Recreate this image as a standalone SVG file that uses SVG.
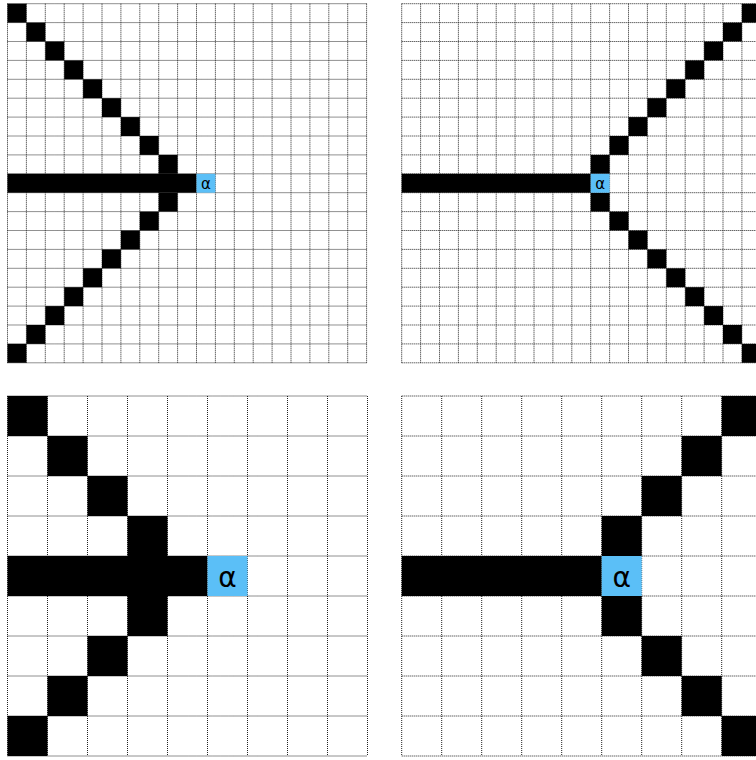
<svg xmlns="http://www.w3.org/2000/svg" width="756" height="760" viewBox="0 0 756 760">
<defs>
<style>
.grid{fill:none;stroke:#222;stroke-width:1;stroke-dasharray:1 1}
.blk{fill:#000}
.a{fill:#5bbff7}
.t{font-family:"DejaVu Sans","Liberation Sans",sans-serif;fill:#000;text-anchor:middle;dominant-baseline:central}
</style>
<path id="g19" class="grid" d="M0 0V359.1M18.9 0V359.1M37.8 0V359.1M56.7 0V359.1M75.6 0V359.1M94.5 0V359.1M113.4 0V359.1M132.3 0V359.1M151.2 0V359.1M170.1 0V359.1M189 0V359.1M207.9 0V359.1M226.8 0V359.1M245.7 0V359.1M264.6 0V359.1M283.5 0V359.1M302.4 0V359.1M321.3 0V359.1M340.2 0V359.1M359.1 0V359.1M0 0H359.1M0 18.9H359.1M0 37.8H359.1M0 56.7H359.1M0 75.6H359.1M0 94.5H359.1M0 113.4H359.1M0 132.3H359.1M0 151.2H359.1M0 170.1H359.1M0 189H359.1M0 207.9H359.1M0 226.8H359.1M0 245.7H359.1M0 264.6H359.1M0 283.5H359.1M0 302.4H359.1M0 321.3H359.1M0 340.2H359.1M0 359.1H359.1"/>
<path id="g9" class="grid" d="M0 0V360M40 0V360M80 0V360M120 0V360M160 0V360M200 0V360M240 0V360M280 0V360M320 0V360M360 0V360M0 0H360M0 40H360M0 80H360M0 120H360M0 160H360M0 200H360M0 240H360M0 280H360M0 320H360M0 360H360"/>
</defs>
<rect width="756" height="760" fill="#fff"/>
<g id="panel-top-left" transform="translate(7.5,3.7)">
<use href="#g19"/>
<g class="blk">
<rect x="0" y="0" width="18.9" height="18.9"/><rect x="0" y="340.2" width="18.9" height="18.9"/>
<rect x="18.9" y="18.9" width="18.9" height="18.9"/><rect x="18.9" y="321.3" width="18.9" height="18.9"/>
<rect x="37.8" y="37.8" width="18.9" height="18.9"/><rect x="37.8" y="302.4" width="18.9" height="18.9"/>
<rect x="56.7" y="56.7" width="18.9" height="18.9"/><rect x="56.7" y="283.5" width="18.9" height="18.9"/>
<rect x="75.6" y="75.6" width="18.9" height="18.9"/><rect x="75.6" y="264.6" width="18.9" height="18.9"/>
<rect x="94.5" y="94.5" width="18.9" height="18.9"/><rect x="94.5" y="245.7" width="18.9" height="18.9"/>
<rect x="113.4" y="113.4" width="18.9" height="18.9"/><rect x="113.4" y="226.8" width="18.9" height="18.9"/>
<rect x="132.3" y="132.3" width="18.9" height="18.9"/><rect x="132.3" y="207.9" width="18.9" height="18.9"/>
<rect x="151.2" y="151.2" width="18.9" height="18.9"/><rect x="151.2" y="189" width="18.9" height="18.9"/>
<rect x="0" y="170.1" width="189" height="18.9"/>
</g>
<rect class="a" x="189" y="170.1" width="18.9" height="18.9"/>
<text class="t" x="198.45" y="180.5" font-size="15">α</text>
</g>
<g id="panel-top-right" transform="translate(401.7,3.7)">
<use href="#g19"/>
<g class="blk">
<rect x="340.2" y="0" width="18.9" height="18.9"/><rect x="340.2" y="340.2" width="18.9" height="18.9"/>
<rect x="321.3" y="18.9" width="18.9" height="18.9"/><rect x="321.3" y="321.3" width="18.9" height="18.9"/>
<rect x="302.4" y="37.8" width="18.9" height="18.9"/><rect x="302.4" y="302.4" width="18.9" height="18.9"/>
<rect x="283.5" y="56.7" width="18.9" height="18.9"/><rect x="283.5" y="283.5" width="18.9" height="18.9"/>
<rect x="264.6" y="75.6" width="18.9" height="18.9"/><rect x="264.6" y="264.6" width="18.9" height="18.9"/>
<rect x="245.7" y="94.5" width="18.9" height="18.9"/><rect x="245.7" y="245.7" width="18.9" height="18.9"/>
<rect x="226.8" y="113.4" width="18.9" height="18.9"/><rect x="226.8" y="226.8" width="18.9" height="18.9"/>
<rect x="207.9" y="132.3" width="18.9" height="18.9"/><rect x="207.9" y="207.9" width="18.9" height="18.9"/>
<rect x="189" y="151.2" width="18.9" height="18.9"/><rect x="189" y="189" width="18.9" height="18.9"/>
<rect x="0" y="170.1" width="189" height="18.9"/>
</g>
<rect class="a" x="189" y="170.1" width="18.9" height="18.9"/>
<text class="t" x="198.45" y="180.5" font-size="15">α</text>
</g>
<g id="panel-bottom-left" transform="translate(7.5,396)">
<use href="#g9"/>
<g class="blk">
<rect x="0" y="0" width="40" height="40"/><rect x="40" y="40" width="40" height="40"/>
<rect x="80" y="80" width="40" height="40"/><rect x="120" y="120" width="40" height="40"/>
<rect x="0" y="160" width="200" height="40"/>
<rect x="120" y="200" width="40" height="40"/><rect x="80" y="240" width="40" height="40"/>
<rect x="40" y="280" width="40" height="40"/><rect x="0" y="320" width="40" height="40"/>
</g>
<rect class="a" x="200" y="160" width="40" height="40"/>
<text class="t" x="220" y="181" font-size="28">α</text>
</g>
<g id="panel-bottom-right" transform="translate(401.7,396)">
<use href="#g9"/>
<g class="blk">
<rect x="320" y="0" width="40" height="40"/><rect x="280" y="40" width="40" height="40"/>
<rect x="240" y="80" width="40" height="40"/><rect x="200" y="120" width="40" height="40"/>
<rect x="0" y="160" width="200" height="40"/>
<rect x="200" y="200" width="40" height="40"/><rect x="240" y="240" width="40" height="40"/>
<rect x="280" y="280" width="40" height="40"/><rect x="320" y="320" width="40" height="40"/>
</g>
<rect class="a" x="200" y="160" width="40" height="40"/>
<text class="t" x="220" y="181" font-size="28">α</text>
</g>
</svg>
